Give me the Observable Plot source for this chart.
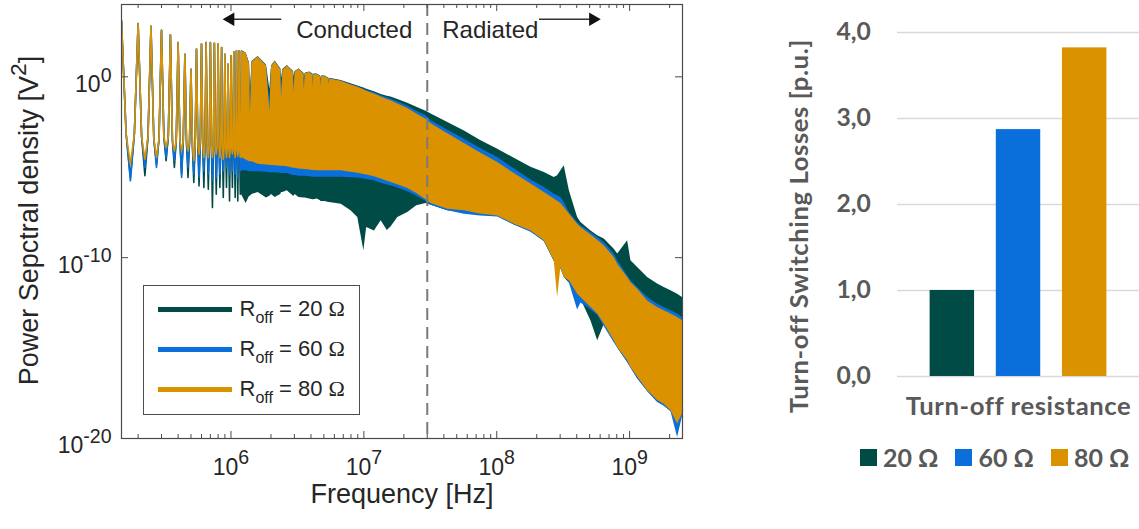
<!DOCTYPE html>
<html><head><meta charset="utf-8">
<script src="https://cdn.jsdelivr.net/npm/d3@7"></script>
<script src="https://cdn.jsdelivr.net/npm/@observablehq/plot@0.6"></script>
<style>
html,body{margin:0;padding:0;background:#fff;}
body{width:1139px;height:529px;position:relative;overflow:hidden;}
#left{position:absolute;left:0;top:0;}
#right{position:absolute;left:740px;top:0;}
#legL{position:absolute;left:142.5px;top:285px;width:217px;height:130px;box-sizing:border-box;border:1px solid #4d4d4d;background:#fff;font-family:"Liberation Sans",Arial,sans-serif;color:#262626;}
#legL .row{position:absolute;left:0;height:40px;display:flex;align-items:center;}
#legL .sw{display:inline-block;margin-left:14px;width:74px;height:5px;}
#legL .lab{margin-left:8px;font-size:22px;white-space:nowrap;line-height:22px;}
#legL sub{font-size:16px;vertical-align:-7px;line-height:0;}
#legL .om{font-family:"Liberation Serif",serif;}
#legR{position:absolute;left:860px;top:441px;width:290px;height:32px;display:flex;align-items:center;font-family:Lato,sans-serif;font-weight:bold;font-size:25px;color:#595959;white-space:nowrap;}
#legR .it{display:flex;align-items:center;margin-right:17px;flex:none;}
#legR .sq{width:17px;height:17px;margin-right:6px;flex:none;}
</style>
</head><body>
<div id="left"></div>
<div id="right"></div>
<div id="legL"></div>
<div id="legR"></div>
<script>
// ---------------- data ----------------
const seriesOhms = ["20", "60", "80"];
const seriesColors = ["#014B47", "#0B6FDB", "#DB9200"];

// right panel: turn-off switching losses (p.u.)
const resistances = ["20 Ω", "60 Ω", "80 Ω"];
const lossPU = [1.0, 2.87, 3.82];
const lossTicks = [0, 1, 2, 3, 4];
const lossTickLabels = ["0,0", "1,0", "2,0", "3,0", "4,0"];

// left panel axes
const xTickValues = [1e6, 1e7, 1e8, 1e9];
const xTickExps = ["6", "7", "8", "9"];
const yTickValues = [1e0, 1e-10, 1e-20];
const yTickExps = ["0", "-10", "-20"];
const boundaryHz = 30e6;

// low-frequency harmonic comb (kHz) and log10 PSD levels
const combPeakKHz = [150,200,250,300,350,400,450,500,550,600,650,700,750,800,850,900,950,1000,1050,1100,1150,1200];
const combPeakExp = [3.1,2.95,2.8,2.58,2.32,1.9,1.25,0.42,1.53,1.81,1.9,1.9,1.86,1.81,1.62,1.25,0.7,1.16,1.38,1.44,1.44,1.42];
const combShoulderLoKHz = [162.5,212.5,262.5,312.5,362.5,412.5,462.5,512.5,562.5,612.5,662.5,712.5,762.5,812.5,862.5,912.5,962.5,1012.5,1062.5,1112.5,1162.5];
const combNotchKHz = [175,225,275,325,375,425,475,525,575,625,675,725,775,825,875,925,975,1025,1075,1125,1175];
const combShoulderHiKHz = [187.5,237.5,287.5,337.5,387.5,437.5,487.5,537.5,587.5,637.5,687.5,737.5,787.5,837.5,887.5,937.5,987.5,1037.5,1087.5,1137.5,1187.5];
const combShoulderExp = [-3.15,-3.3,-3.4,-3.3,-3.5,-3.5,-3.6,-3.8,-3.6,-3.7,-3.7,-3.8,-3.8,-3.8,-3.9,-3.9,-3.9,-3.9,-3.9,-3.9,-3.9];
const combNotchExp20 = [-5.57,-5.47,-4.83,-4.64,-5.01,-5.38,-5.57,-5.84,-6.03,-6.12,-6.21,-7.23,-6.49,-6.12,-6.67,-6.12,-6.86,-6.12,-6.67,-6.86,-6.49];
const combNotchExp60 = [-5.75,-5.01,-5.01,-4.46,-4.64,-5.57,-5.01,-5.38,-5.57,-5.2,-5.38,-5.75,-5.57,-5.38,-5.2,-5.01,-5.38,-5.2,-5.38,-5.57,-5.2];
const combNotchExp80 = [-4.83,-4.55,-4.46,-3.91,-4.09,-4.09,-4.09,-4.64,-4.27,-4.46,-4.46,-4.46,-4.27,-4.46,-4.55,-4.46,-4.46,-4.27,-4.46,-4.37,-4.46];

// dense spectrum envelopes (Hz) with log10 upper / lower PSD levels
const envF = [1.2e6,1.3e6,1.38e6,1.40e6,1.44e6,1.6e6,1.85e6,1.96e6,2.02e6,2.15e6,2.37e6,2.40e6,2.46e6,2.65e6,2.96e6,2.98e6,3.04e6,3.25e6,3.54e6,3.56e6,3.62e6,3.9e6,4.14e6,4.16e6,4.19e6,4.45e6,4.72e6,4.75e6,4.79e6,5.1e6,5.45e6,5.48e6,5.52e6,6.75e6,8.0e6,9.0e6,1.0e7,1.05e7,1.2e7,1.35e7,1.5e7,1.6e7,1.8e7,2.14e7,2.5e7,2.94e7,3.21e7,4.28e7,5.71e7,7.5e7,1.017e8,1.356e8,1.81e8,2.28e8,2.71e8,2.87e8,3.04e8,3.22e8,3.52e8,4.06e8,4.30e8,5.12e8,5.75e8,6.44e8,7.66e8,8.13e8,9.66e8,1.023e9,1.149e9,1.366e9,1.623e9,1.82e9,2.045e9,2.296e9,2.5e9];
const envHiExp20 = [1.45,1.32,0.75,-0.8,0.85,1.12,0.65,-0.7,0.6,0.88,0.45,-0.1,0.4,0.62,0.3,0.0,0.3,0.44,0.2,-0.1,0.2,0.27,0.15,-0.1,0.15,0.15,0.05,-0.15,0.05,0.04,-0.08,-0.2,-0.08,
  -0.2,-0.38,-0.5,-0.62,-0.68,-0.82,-0.98,-1.08,-1.12,-1.25,-1.46,-1.68,-1.9,-2.06,-2.53,-2.99,-3.5,-4.0,-4.5,-5.0,-5.29,-5.57,-5.47,-5.2,-4.92,-6.3,-7.78,-8.05,-8.52,-8.79,-8.97,-9.53,-9.8,-9.07,-10.17,-10.54,-11.1,-11.46,-11.65,-11.83,-12.02,-12.2];
const envLoExp20 = [-6.5,-7.0,-6.6,-6.6,-6.5,-6.4,-6.7,-6.6,-6.5,-6.67,-6.5,-6.4,-6.4,-6.3,-6.6,-6.6,-6.5,-6.67,-6.7,-6.7,-6.7,-6.75,-6.8,-6.8,-6.8,-6.76,-6.85,-6.9,-6.9,-6.9,-6.95,-6.95,-6.95,
  -7.04,-7.41,-7.78,-9.62,-8.33,-8.52,-7.96,-8.5,-8.3,-7.78,-7.5,-7.13,-7.0,-7.1,-7.4,-7.45,-7.65,-7.7,-8.2,-8.55,-9.1,-10.2,-10.6,-10.6,-11.1,-11.4,-12.0,-12.3,-13.5,-14.6,-13.7,-14.6,-15.0,-15.8,-16.1,-16.7,-17.4,-18.0,-18.2,-18.5,-19.0,-18.8];
const envHiExp60 = [1.44,1.31,0.72,-1.5,0.82,1.11,0.62,-1.4,0.57,0.86,0.42,-0.7,0.37,0.61,0.27,-0.5,0.27,0.43,0.17,-0.4,0.17,0.26,0.12,-0.35,0.12,0.14,0.02,-0.3,0.02,0.03,-0.1,-0.3,-0.1,
  -0.23,-0.42,-0.55,-0.68,-0.75,-0.88,-1.05,-1.16,-1.22,-1.38,-1.62,-1.9,-2.15,-2.43,-2.95,-3.45,-3.95,-4.46,-5.1,-5.71,-6.12,-6.49,-6.58,-6.67,-6.95,-7.5,-8.05,-8.24,-8.61,-8.88,-9.16,-9.8,-10.17,-11.0,-11.28,-11.65,-12.2,-12.57,-12.76,-12.94,-13.12,-13.31];
const envLoExp60 = [-5.2,-5.2,-5.25,-5.25,-5.25,-5.25,-5.28,-5.3,-5.3,-5.3,-5.33,-5.35,-5.35,-5.35,-5.45,-5.45,-5.45,-5.5,-5.5,-5.5,-5.5,-5.52,-5.55,-5.55,-5.55,-5.55,-5.55,-5.55,-5.55,-5.55,-5.55,-5.55,-5.55,
  -5.55,-5.58,-5.6,-5.65,-5.68,-5.75,-5.88,-5.98,-6.02,-6.15,-6.35,-6.6,-6.9,-7.1,-7.4,-7.6,-7.7,-7.75,-8.2,-8.6,-9.1,-10.2,-11.0,-10.6,-11.0,-11.4,-12.9,-12.5,-12.9,-13.2,-13.8,-14.7,-15.0,-15.8,-16.1,-16.7,-17.4,-18.0,-18.2,-18.5,-19.95,-18.8];
const envHiExp80 = [1.42,1.3,0.7,-2.0,0.8,1.1,0.6,-1.9,0.55,0.85,0.4,-1.15,0.35,0.6,0.25,-0.9,0.25,0.42,0.15,-0.75,0.15,0.25,0.1,-0.65,0.1,0.13,0.0,-0.55,0.0,0.02,-0.12,-0.45,-0.12,
  -0.25,-0.45,-0.58,-0.72,-0.8,-0.95,-1.12,-1.25,-1.32,-1.5,-1.75,-2.05,-2.35,-2.6,-3.15,-3.68,-4.2,-4.74,-5.35,-5.93,-6.4,-6.76,-6.88,-7.0,-7.23,-7.59,-8.15,-8.33,-8.74,-9.03,-9.34,-9.99,-10.36,-11.1,-11.37,-11.74,-12.39,-12.76,-12.94,-13.12,-13.31,-13.49];
const envLoExp80 = [-4.46,-4.6,-4.7,-4.7,-4.7,-4.83,-4.88,-4.9,-4.9,-4.92,-4.95,-4.95,-4.95,-4.97,-5.05,-5.05,-5.05,-5.1,-5.12,-5.12,-5.12,-5.15,-5.18,-5.18,-5.18,-5.2,-5.2,-5.2,-5.2,-5.2,-5.2,-5.2,-5.2,
  -5.2,-5.28,-5.33,-5.4,-5.43,-5.52,-5.65,-5.78,-5.84,-5.97,-6.17,-6.45,-6.8,-7.0,-7.32,-7.41,-7.59,-7.69,-8.15,-8.52,-9.07,-10.17,-12.2,-10.54,-11.1,-11.28,-12.02,-12.2,-12.76,-13.12,-13.67,-14.6,-14.97,-15.7,-16.07,-16.6,-17.36,-17.9,-18.1,-18.47,-19.2,-18.65];

// annotation arrows (Hz) at a PSD level
const arrowFromHz = [2.39e6, 2.08e8];
const arrowToHz = [9.9e5, 5.3e8];
const arrowLevel = 1.55e3;

// ---------------- build tables ----------------
const combNotches = [combNotchExp20, combNotchExp60, combNotchExp80];
const envHi = [envHiExp20, envHiExp60, envHiExp80];
const envLo = [envLoExp20, envLoExp60, envLoExp80];
function combSeries(notch) {
  const pts = [];
  combPeakKHz.forEach((f, i) => {
    pts.push({f: f * 1e3, v: 10 ** combPeakExp[i]});
    if (i < notch.length) {
      pts.push({f: combShoulderLoKHz[i] * 1e3, v: 10 ** combShoulderExp[i]});
      pts.push({f: combNotchKHz[i] * 1e3, v: 10 ** notch[i]});
      pts.push({f: combShoulderHiKHz[i] * 1e3, v: 10 ** combShoulderExp[i]});
    }
  });
  return pts;
}
function envSeries(hi, lo) {
  return envF.map((f, i) => ({f, hi: 10 ** hi[i], lo: 10 ** lo[i]}));
}

const W = 700, H = 529, mL = 121, mR = 18, mT = 4, mB = 91;
const innerW = W - mL - mR, innerH = H - mT - mB;
const FRAME = "#4a4a4a", TXT = "#262626";

const xMinor = [];
for (const dec of [1e5, 1e6, 1e7, 1e8, 1e9]) for (let k = 2; k <= 9; k++) {
  const v = k * dec; if (v > 1.5e5 && v < 2.5e9) xMinor.push(v);
}

const spectrumMarks = [];
[0, 1, 2].forEach(s => {
  spectrumMarks.push(Plot.areaY(envSeries(envHi[s], envLo[s]), {x: "f", y1: "lo", y2: "hi", fill: seriesColors[s], clip: true}));
  spectrumMarks.push(Plot.line(combSeries(combNotches[s]), {x: "f", y: "v", stroke: seriesColors[s], strokeWidth: 1.6, clip: true}));
});

const arrows = arrowFromHz.map((f, i) => ({x1: f, x2: arrowToHz[i], y: arrowLevel, rot: arrowToHz[i] < f ? -90 : 90}));

const leftPlot = Plot.plot({
  width: W, height: H, marginLeft: mL, marginRight: mR, marginTop: mT, marginBottom: mB,
  x: {type: "log", domain: [1.5e5, 2.5e9], axis: null},
  y: {type: "log", domain: [1e-20, 1e4], axis: null},
  style: {fontFamily: "'Liberation Sans', Arial, sans-serif", color: TXT, background: "transparent", overflow: "visible"},
  marks: [
    ...spectrumMarks,
    Plot.ruleX([boundaryHz], {stroke: "#7a7a7a", strokeWidth: 2, strokeDasharray: "12,7"}),
    Plot.ruleX(xTickValues, {insetTop: innerH - 7, stroke: FRAME}),
    Plot.ruleX(xTickValues, {insetBottom: innerH - 7, stroke: FRAME}),
    Plot.ruleX(xMinor, {insetTop: innerH - 4, stroke: FRAME}),
    Plot.ruleX(xMinor, {insetBottom: innerH - 4, stroke: FRAME}),
    Plot.ruleY(yTickValues, {insetRight: innerW - 7, stroke: FRAME}),
    Plot.ruleY(yTickValues, {insetLeft: innerW - 7, stroke: FRAME}),
    Plot.frame({stroke: FRAME, strokeWidth: 1.2}),
    Plot.text(xTickValues, {x: d => d, text: (d, i) => "10^" + xTickExps[i], frameAnchor: "bottom", dy: 36, fontSize: 23, textAnchor: "middle"}),
    Plot.text(yTickValues, {y: d => d, text: (d, i) => "10^" + yTickExps[i], frameAnchor: "left", dx: -10, dy: 7.5, fontSize: 23, textAnchor: "end"}),
    Plot.text(["Frequency [Hz]"], {frameAnchor: "bottom", dy: 64, fontSize: 27, textAnchor: "middle"}),
    Plot.text(["Power Sepctral density [V^2]"], {frameAnchor: "left", rotate: -90, dx: -92, dy: -1, fontSize: 27, textAnchor: "middle"}),
    Plot.text([{f: boundaryHz, t: "Conducted"}], {x: "f", text: "t", frameAnchor: "top", dy: 16.6, dx: -15, textAnchor: "end", fontSize: 24}),
    Plot.text([{f: boundaryHz, t: "Radiated"}], {x: "f", text: "t", frameAnchor: "top", dy: 16.6, dx: 15, textAnchor: "start", fontSize: 24}),
    Plot.link(arrows, {x1: "x1", x2: "x2", y1: "y", y2: "y", stroke: "#333", strokeWidth: 1.5}),
    Plot.dot(arrows, {x: "x2", y: "y", symbol: "triangle", rotate: "rot", r: 5, fill: "#111", stroke: "none"})
  ]
});

function applySup(svg) {
  const ns = "http://www.w3.org/2000/svg";
  svg.querySelectorAll("text").forEach(t => {
    const s = t.textContent, k = s.indexOf("^");
    if (k < 0) return;
    const base = s.slice(0, k), rest = s.slice(k + 1);
    const ex = rest.match(/^[-0-9]+/)[0], tail = rest.slice(ex.length);
    t.textContent = base;
    const sp = document.createElementNS(ns, "tspan");
    sp.setAttribute("dy", "-0.52em"); sp.setAttribute("font-size", "0.85em"); sp.textContent = ex;
    t.appendChild(sp);
    if (tail) {
      const tp = document.createElementNS(ns, "tspan");
      tp.setAttribute("dy", "0.44em"); tp.textContent = tail; t.appendChild(tp);
    }
  });
}
applySup(leftPlot);
document.getElementById("left").appendChild(leftPlot);

// left legend
const legL = document.getElementById("legL");
seriesOhms.forEach((o, i) => {
  const row = document.createElement("div");
  row.className = "row"; row.style.top = (3.3 + 40 * i) + "px";
  row.innerHTML = `<span class="sw" style="background:${seriesColors[i]}"></span><span class="lab">R<sub>off</sub> = ${o} <span class="om">Ω</span></span>`;
  legL.appendChild(row);
});

// ---------------- right panel ----------------
const bars = resistances.map((r, i) => ({r, v: lossPU[i], c: seriesColors[i]}));
const rightPlot = Plot.plot({
  width: 404, height: 529, marginLeft: 159, marginRight: 0, marginTop: 32.3, marginBottom: 148.3,
  x: {type: "band", domain: resistances, paddingInner: 0.33, paddingOuter: 0.49, axis: null},
  y: {domain: [0, 4], axis: null},
  style: {fontFamily: "Lato, 'Open Sans', sans-serif", fontWeight: "bold", color: "#595959", background: "transparent", overflow: "visible"},
  marks: [
    Plot.gridY(lossTicks, {stroke: "#d9d9d9", strokeOpacity: 1, strokeWidth: 1.5}),
    Plot.barY(bars, {x: "r", y: "v", fill: "c"}),
    Plot.axisY(lossTicks, {tickSize: 0, tickPadding: 27, tickFormat: d => lossTickLabels[lossTicks.indexOf(d)], fontSize: 25, label: null}),
    Plot.text(["Turn-off resistance"], {frameAnchor: "bottom", dy: 39.3, fontSize: 26, textAnchor: "middle"}),
    Plot.text(["Turn-off Switching Losses [p.u.]"], {frameAnchor: "left", rotate: -90, dx: -99, dy: 22, fontSize: 26, textAnchor: "middle"})
  ]
});
rightPlot.querySelectorAll("text").forEach(t => {
  if (t.textContent.startsWith("Turn-off")) t.setAttribute("letter-spacing", "0.6");
});
document.getElementById("right").appendChild(rightPlot);

const legR = document.getElementById("legR");
resistances.forEach((r, i) => {
  const it = document.createElement("div");
  it.className = "it";
  it.innerHTML = `<span class="sq" style="background:${seriesColors[i]}"></span><span>${r}</span>`;
  legR.appendChild(it);
});
</script>
</body></html>
